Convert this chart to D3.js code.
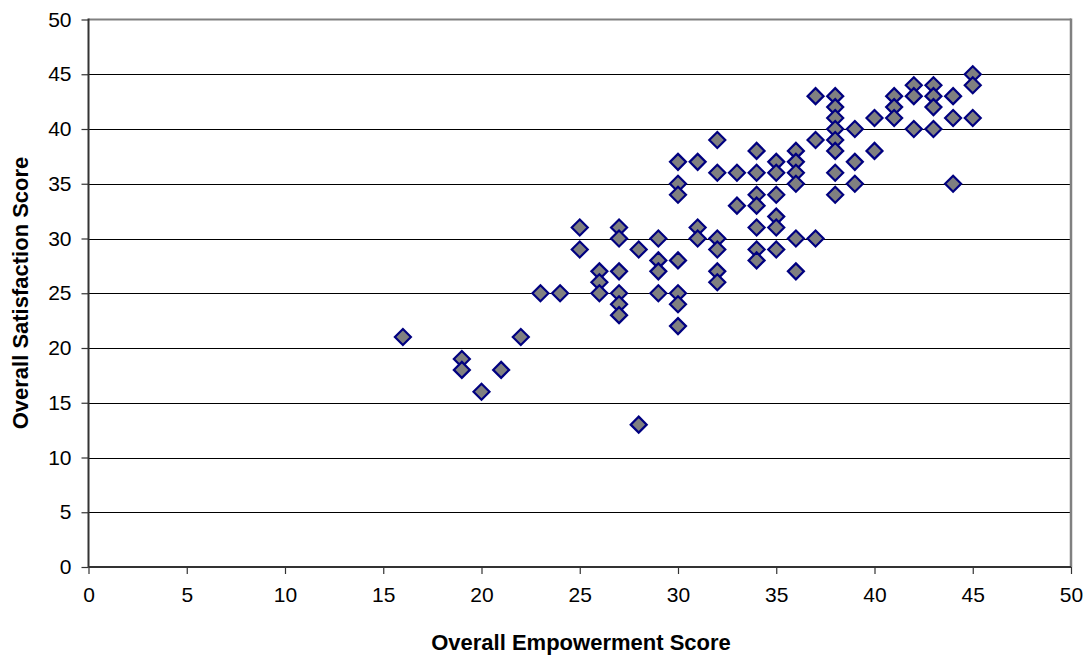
<!DOCTYPE html>
<html>
<head>
<meta charset="utf-8">
<script src="https://cdn.jsdelivr.net/npm/d3@7"></script>
<style>
  html, body { margin: 0; padding: 0; background: #fff; }
  svg { display: block; font-family: Arial, "Liberation Sans", sans-serif; }
</style>
</head>
<body>
<svg id="chart" width="1089" height="659"></svg>
<script>
// Data: Overall Empowerment Score (x) vs Overall Satisfaction Score (y)
const empowerment = [
  16,
  19, 19,
  20,
  21,
  22,
  23,
  24,
  25, 25,
  26, 26, 26,
  27, 27, 27, 27, 27, 27,
  28, 28,
  29, 29, 29, 29,
  30, 30, 30, 30, 30, 30, 30,
  31, 31, 31,
  32, 32, 32, 32, 32, 32,
  33, 33,
  34, 34, 34, 34, 34, 34, 34,
  35, 35, 35, 35, 35, 35,
  36, 36, 36, 36, 36, 36,
  37, 37, 37,
  38, 38, 38, 38, 38, 38, 38, 38,
  39, 39, 39,
  40, 40,
  41, 41, 41,
  42, 42, 42,
  43, 43, 43, 43,
  44, 44, 44,
  45, 45, 45
];
const satisfaction = [
  21,
  19, 18,
  16,
  18,
  21,
  25,
  25,
  31, 29,
  27, 26, 25,
  31, 30, 27, 25, 24, 23,
  29, 13,
  30, 28, 27, 25,
  37, 35, 34, 28, 25, 24, 22,
  37, 31, 30,
  39, 36, 30, 29, 27, 26,
  36, 33,
  38, 36, 34, 33, 31, 29, 28,
  37, 36, 34, 32, 31, 29,
  38, 37, 36, 35, 30, 27,
  43, 39, 30,
  43, 42, 41, 40, 39, 38, 36, 34,
  40, 37, 35,
  41, 38,
  43, 42, 41,
  44, 43, 40,
  44, 43, 42, 40,
  43, 41, 35,
  45, 44, 41
];
const xTicks = [0, 5, 10, 15, 20, 25, 30, 35, 40, 45, 50];
const yTicks = [0, 5, 10, 15, 20, 25, 30, 35, 40, 45, 50];
const xTitle = "Overall Empowerment Score";
const yTitle = "Overall Satisfaction Score";

const points = empowerment.map((v, i) => ({ x: v, y: satisfaction[i] }));

const svg = d3.select("#chart");
const pLeft = 88.5, pRight = 1071, pTop = 19.5, pBottom = 567;

const x = d3.scaleLinear().domain([0, 50]).range([pLeft, pRight]);
const y = d3.scaleLinear().domain([0, 50]).range([pBottom, pTop]);

// horizontal gridlines
svg.append("g")
  .selectAll("line")
  .data(yTicks.filter(t => t > 0 && t < 50))
  .join("line")
  .attr("x1", pLeft).attr("x2", pRight)
  .attr("y1", d => Math.round(y(d)) + 0.5).attr("y2", d => Math.round(y(d)) + 0.5)
  .attr("stroke", "#000").attr("stroke-width", 1);

// top border (gray)
svg.append("line")
  .attr("x1", pLeft).attr("x2", pRight)
  .attr("y1", pTop).attr("y2", pTop)
  .attr("stroke", "#808080").attr("stroke-width", 2);
// right border (gray)
svg.append("line")
  .attr("x1", pRight).attr("x2", pRight)
  .attr("y1", pTop - 1).attr("y2", pBottom)
  .attr("stroke", "#808080").attr("stroke-width", 2.5);

// axes
const xAxis = d3.axisBottom(x).tickValues(xTicks).tickSize(7).tickPadding(13).tickFormat(d3.format("d"));
const yAxis = d3.axisLeft(y).tickValues(yTicks).tickSize(7).tickPadding(10).tickFormat(d3.format("d"));

const gx = svg.append("g").attr("transform", `translate(0,${pBottom})`).call(xAxis);
const gy = svg.append("g").attr("transform", `translate(${pLeft},0)`).call(yAxis);

[gx, gy].forEach(g => {
  g.select(".domain").attr("stroke", "#333").attr("stroke-width", 2);
  g.selectAll(".tick line").attr("stroke", "#333").attr("stroke-width", 1.2);
  g.selectAll(".tick text")
    .attr("fill", "#000")
    .style("font-size", "21px")
    .style("font-family", "Arial, 'Liberation Sans', sans-serif");
});
gx.select(".domain").attr("d", `M${pLeft},0H${pRight}`);
gy.select(".domain").attr("d", `M0,${pBottom}V${pTop - 1}`);

// points
const s = 8;
svg.append("g")
  .selectAll("path")
  .data(points)
  .join("path")
  .attr("transform", d => `translate(${x(d.x)},${y(d.y)})`)
  .attr("d", `M0,${-s}L${s},0L0,${s}L${-s},0Z`)
  .attr("fill", "#808080")
  .attr("stroke", "#000080")
  .attr("stroke-width", 2.2);

// axis titles
svg.append("text")
  .attr("x", 581).attr("y", 650)
  .attr("text-anchor", "middle")
  .style("font-size", "22px").style("font-weight", "bold")
  .attr("fill", "#000")
  .text(xTitle);

svg.append("text")
  .attr("transform", `translate(28,${293}) rotate(-90)`)
  .attr("text-anchor", "middle")
  .style("font-size", "22px").style("font-weight", "bold")
  .attr("fill", "#000")
  .text(yTitle);
</script>
</body>
</html>
